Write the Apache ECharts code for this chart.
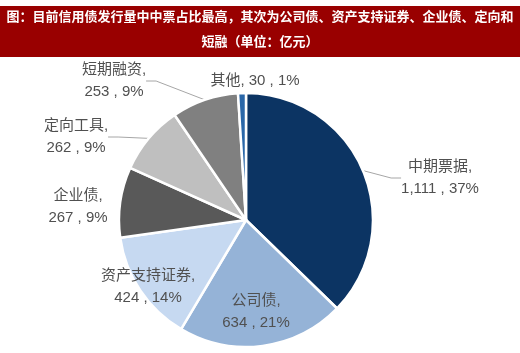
<!DOCTYPE html>
<html>
<head>
<meta charset="utf-8">
<script src="https://cdn.jsdelivr.net/npm/echarts@6/dist/echarts.min.js"></script>
<style>
html,body{margin:0;padding:0;background:#fff;}
#c{width:520px;height:353px;}
</style>
</head>
<body>
<div id="c"></div>
<script>
var titleLines = ['图：目前信用债发行量中中票占比最高，其次为公司债、资产支持证券、企业债、定向和', '短融（单位：亿元）'];
var categories = ['中期票据', '公司债', '资产支持证券', '企业债', '定向工具', '短期融资', '其他'];
var values = [1111, 634, 424, 267, 262, 253, 30];
var colors = ['#0c3463', '#95b3d7', '#c6d9f1', '#595959', '#bfbfbf', '#808080', '#2a67a8'];
var showLine = [true, false, false, false, true, true, false];

// label centre positions (layout only)
var labelPos = [[440, 178], [256, 312], [148, 287], [78, 207], [76, 137], [114, 81], [255, 81]];

var chart = echarts.init(document.getElementById('c'), null, {renderer: 'canvas'});
var data = categories.map(function (c, i) {
  return {
    name: c, value: values[i],
    itemStyle: {color: colors[i]},
    labelLine: {show: showLine[i]}
  };
});
chart.setOption({
  animation: false,
  graphic: [{
    type: 'rect', z: 0,
    shape: {x: 0, y: 6, width: 520, height: 51},
    style: {fill: '#990000'}
  }, {
    type: 'text', z: 1,
    x: 260, y: 16,
    style: {
      text: titleLines[0], fill: '#ffffff', align: 'center', verticalAlign: 'middle',
      font: 'bold 13px "Noto Sans CJK SC"'
    }
  }, {
    type: 'text', z: 1,
    x: 260, y: 41,
    style: {
      text: titleLines[1], fill: '#ffffff', align: 'center', verticalAlign: 'middle',
      font: 'bold 13px "Noto Sans CJK SC"'
    }
  }],
  series: [{
    type: 'pie',
    center: [246, 220],
    radius: [0, 127],
    startAngle: 90,
    clockwise: true,
    percentPrecision: 0,
    itemStyle: {borderColor: '#ffffff', borderWidth: 2.5},
    data: data,
    label: {
      show: true,
      position: 'outside',
      color: '#505050',
      fontSize: 15,
      lineHeight: 22,
      align: 'center',
      fontFamily: '"Liberation Sans", "Noto Sans CJK SC"',
      formatter: function (p) {
        var v = echarts.format.addCommas(p.value);
        if (p.name === '其他') return p.name + ', ' + v + ' , ' + p.percent + '%';
        return p.name + ',\n' + v + ' , ' + p.percent + '%';
      }
    },
    labelLine: {
      show: true, length: 10, length2: 10,
      lineStyle: {color: '#a6a6a6', width: 1}
    },
    labelLayout: function (params) {
      var p = labelPos[params.dataIndex];
      return {x: p[0], y: p[1], align: 'center', verticalAlign: 'middle'};
    }
  }]
});
</script>
</body>
</html>
